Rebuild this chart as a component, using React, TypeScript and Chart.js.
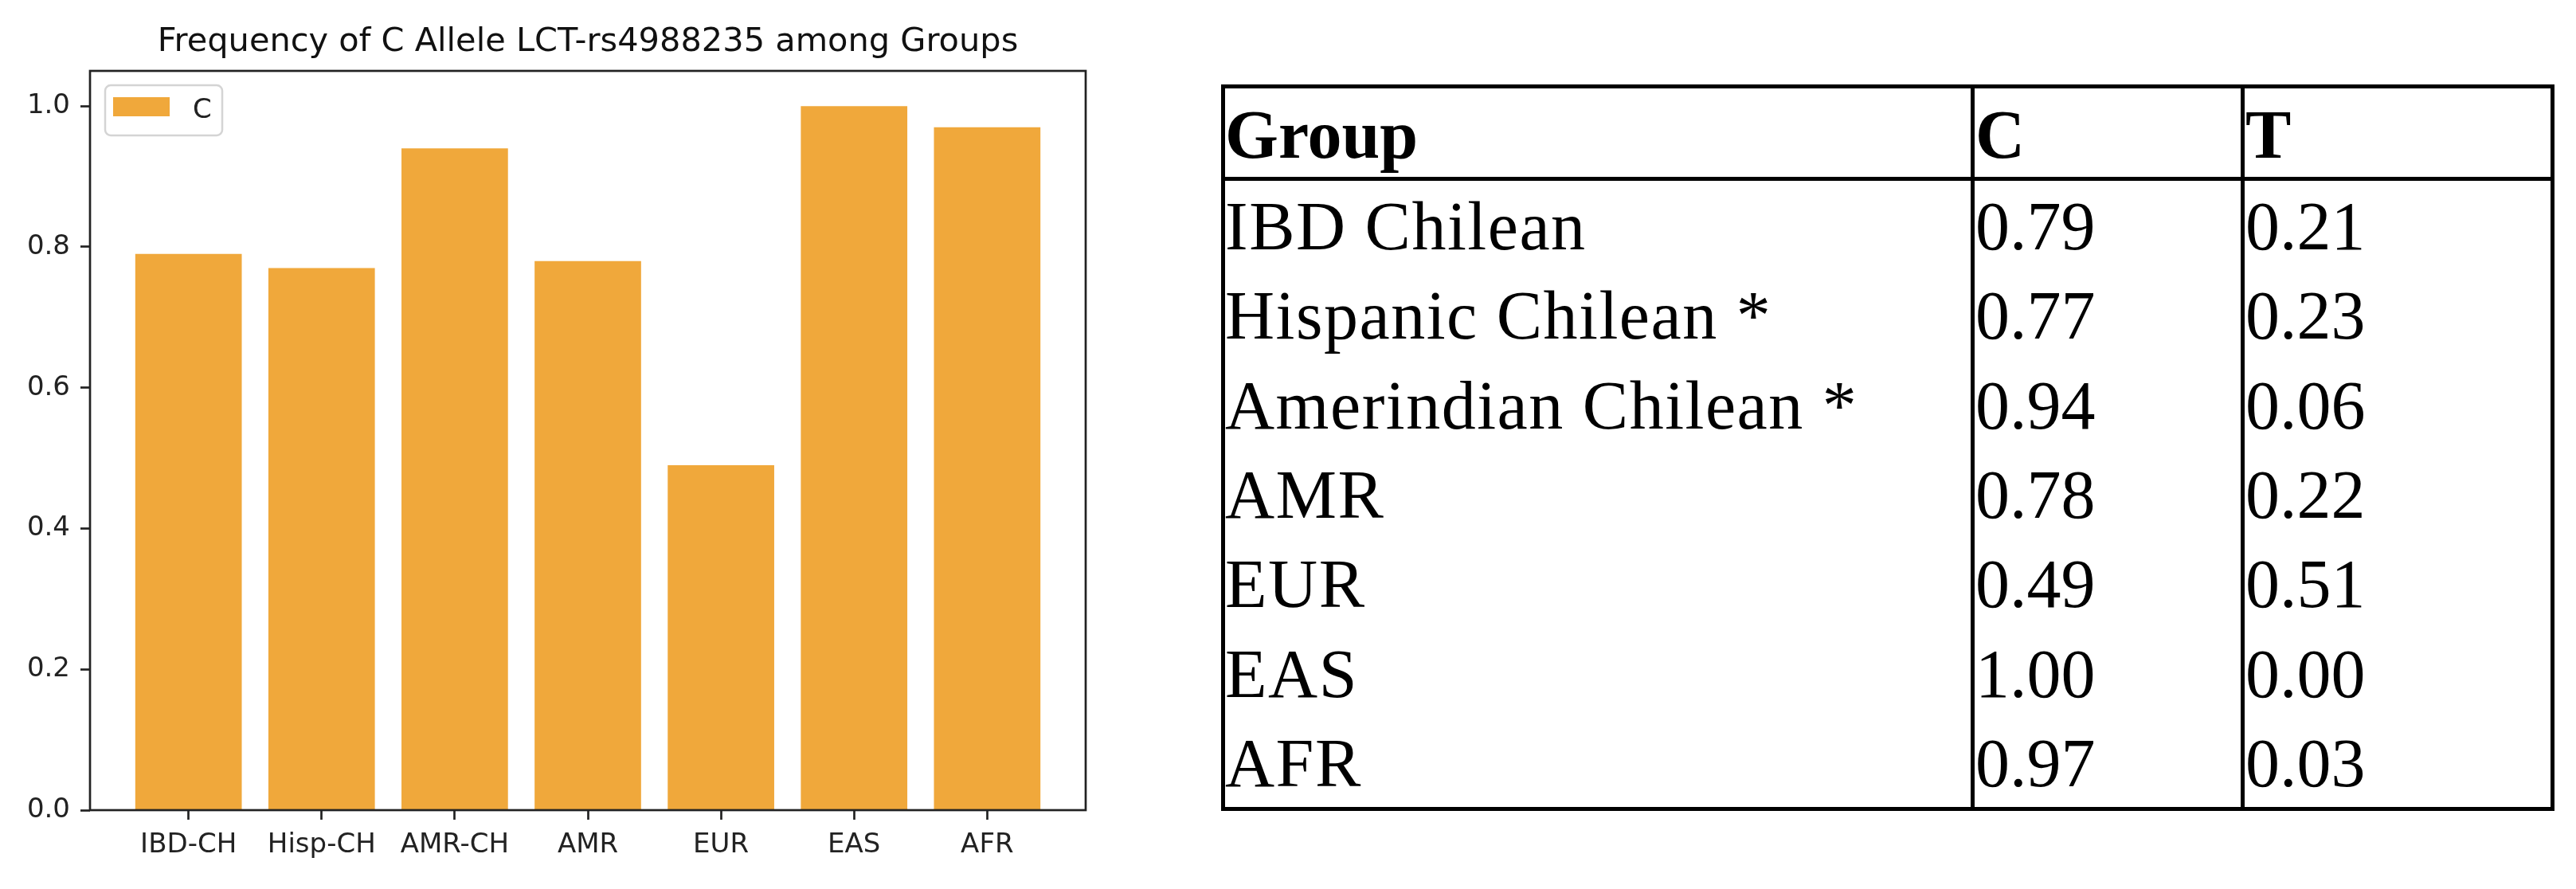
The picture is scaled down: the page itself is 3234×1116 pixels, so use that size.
import React, { useEffect, useRef } from 'react';
import { Chart, registerables } from 'chart.js';

Chart.register(...registerables);

// ---------- data ----------
const chartTitle = 'Frequency of C Allele LCT-rs4988235 among Groups';
const seriesLabel = 'C';
const groupCodes = ['IBD-CH', 'Hisp-CH', 'AMR-CH', 'AMR', 'EUR', 'EAS', 'AFR'];
const cFreq = [0.79, 0.77, 0.94, 0.78, 0.49, 1.0, 0.97];
const yTicks = [0, 0.2, 0.4, 0.6, 0.8, 1.0];

const tableHeader = ['Group', 'C', 'T'];
const tableGroups = [
  'IBD Chilean',
  'Hispanic Chilean *',
  'Amerindian Chilean *',
  'AMR',
  'EUR',
  'EAS',
  'AFR',
];
const tFreq = [0.21, 0.23, 0.06, 0.22, 0.51, 0.0, 0.03];

// ---------- styles / layout ----------
const BAR_COLOR = '#F0A83B';
const AXIS_COLOR = '#222222';
const SANS = '"DejaVu Sans", sans-serif';
const SERIF = '"Liberation Serif", serif';

const CANVAS_W = 1476;
const CANVAS_H = 1116;

// table geometry
const T_LEFT = 1533;
const T_RIGHT = 3207;
const T_TOP = 106;
const T_BOTTOM = 1018;
const LINE_W = 5;
const HEADER_LINE_TOP = 222;
const COL_LINES = [2474, 2813];
const COL_TEXT_X = [1538, 2480, 2819];
const HEADER_BASELINE = 198;
const FIRST_BASELINE = 313;
const ROW_STEP = 112.33;
const T_FONT = 86;
const BASELINE_OFFSET = 72; // baseline below div top for line-height = font size

function BarChart() {
  const ref = useRef<HTMLCanvasElement | null>(null);

  useEffect(() => {
    const canvas = ref.current;
    if (!canvas) return;

    const spines = {
      id: 'spines',
      afterDatasetsDraw(chart: any) {
        const { ctx, chartArea: a } = chart;
        ctx.save();
        ctx.lineWidth = 2.7;
        ctx.strokeStyle = AXIS_COLOR;
        ctx.strokeRect(a.left, a.top, a.right - a.left, a.bottom - a.top);
        ctx.restore();
      },
    };

    const legendBox = {
      id: 'legendBox',
      afterDatasetsDraw(chart: any) {
        const ds = chart.data.datasets[0];
        const a = chart.chartArea;
        const ctx = chart.ctx;
        const x = a.left + 19;
        const y = a.top + 18;
        const w = 147;
        const h = 63;
        ctx.save();
        ctx.beginPath();
        if ((ctx as any).roundRect) (ctx as any).roundRect(x, y, w, h, 7);
        else ctx.rect(x, y, w, h);
        ctx.fillStyle = 'rgba(255,255,255,0.8)';
        ctx.fill();
        ctx.lineWidth = 2.5;
        ctx.strokeStyle = '#d4d4d4';
        ctx.stroke();
        ctx.fillStyle = ds.backgroundColor;
        ctx.fillRect(x + 10, y + 15, 71, 24);
        ctx.fillStyle = AXIS_COLOR;
        ctx.font = `34px ${SANS}`;
        ctx.textBaseline = 'alphabetic';
        ctx.textAlign = 'left';
        ctx.fillText(ds.label, x + 110, y + 41);
        ctx.restore();
      },
    };

    const tickFont = { family: SANS, size: 34 };
    const gridCfg = {
      display: true,
      offset: false,
      drawOnChartArea: false,
      drawTicks: true,
      tickLength: 12,
      tickWidth: 2.7,
      tickColor: AXIS_COLOR,
    };

    const chart = new Chart(canvas, {
      type: 'bar',
      data: {
        datasets: [
          {
            label: seriesLabel,
            data: cFreq.map((v, i) => ({ x: i, y: v })),
            backgroundColor: BAR_COLOR,
            borderWidth: 0,
            barPercentage: 0.8,
            categoryPercentage: 1,
          },
        ],
      },
      options: {
        responsive: false,
        maintainAspectRatio: false,
        animation: false,
        layout: { padding: 0 },
        plugins: {
          legend: { display: false },
          tooltip: { enabled: false },
          title: {
            display: true,
            text: chartTitle,
            color: '#111',
            font: { family: SANS, size: 41.5, weight: 'normal', lineHeight: 1.2 },
            padding: { top: 28.75, bottom: 10.45 },
          },
        },
        scales: {
          x: {
            type: 'linear',
            offset: false,
            min: -0.74,
            max: 6.74,
            afterBuildTicks: (s: any) => {
              s.ticks = groupCodes.map((_, i) => ({ value: i }));
            },
            afterFit: (s: any) => {
              s.height = 99;
            },
            grid: gridCfg,
            border: { display: false },
            ticks: {
              autoSkip: false,
              maxRotation: 0,
              minRotation: 0,
              padding: 12,
              color: AXIS_COLOR,
              font: tickFont,
              callback: (v: any) => groupCodes[Math.round(Number(v))] ?? '',
            },
          },
          y: {
            type: 'linear',
            position: 'left',
            min: 0,
            max: 1.05,
            afterBuildTicks: (s: any) => {
              s.ticks = yTicks.map((v) => ({ value: v }));
            },
            afterFit: (s: any) => {
              s.width = 113;
            },
            grid: gridCfg,
            border: { display: false },
            ticks: {
              padding: 13,
              color: AXIS_COLOR,
              font: tickFont,
              callback: (v: any) => Number(v).toFixed(1),
            },
          },
          yRight: {
            type: 'linear',
            position: 'right',
            display: true,
            afterFit: (s: any) => {
              s.width = 113;
            },
            grid: { display: false },
            border: { display: false },
            ticks: { display: false },
          },
        },
      } as any,
      plugins: [spines, legendBox],
    });

    return () => chart.destroy();
  }, []);

  return (
    <canvas
      ref={ref}
      width={CANVAS_W}
      height={CANVAS_H}
      style={{ position: 'absolute', left: 0, top: 0, width: CANVAS_W, height: CANVAS_H }}
    />
  );
}

function FreqTable() {
  const lines: React.ReactNode[] = [];
  lines.push(
    <div
      key="box"
      style={{
        position: 'absolute',
        left: T_LEFT,
        top: T_TOP,
        width: T_RIGHT - T_LEFT,
        height: T_BOTTOM - T_TOP,
        border: `${LINE_W}px solid #000`,
        boxSizing: 'border-box',
      }}
    />
  );
  lines.push(
    <div
      key="hline"
      style={{
        position: 'absolute',
        left: T_LEFT,
        top: HEADER_LINE_TOP,
        width: T_RIGHT - T_LEFT,
        height: LINE_W,
        background: '#000',
      }}
    />
  );
  COL_LINES.forEach((x, i) =>
    lines.push(
      <div
        key={'v' + i}
        style={{
          position: 'absolute',
          left: x,
          top: T_TOP,
          width: LINE_W,
          height: T_BOTTOM - T_TOP,
          background: '#000',
        }}
      />
    )
  );

  const cell = (
    text: string,
    col: number,
    baseline: number,
    bold: boolean,
    key: string,
    spacing = 0
  ) => (
    <div
      key={key}
      style={{
        position: 'absolute',
        left: COL_TEXT_X[col],
        top: baseline - BASELINE_OFFSET,
        fontFamily: SERIF,
        fontSize: T_FONT,
        lineHeight: `${T_FONT}px`,
        fontWeight: bold ? 700 : 400,
        letterSpacing: spacing,
        whiteSpace: 'nowrap',
        color: '#000',
      }}
    >
      {text}
    </div>
  );

  const texts: React.ReactNode[] = [];
  tableHeader.forEach((h, c) => texts.push(cell(h, c, HEADER_BASELINE, true, 'h' + c)));
  tableGroups.forEach((g, r) => {
    const b = FIRST_BASELINE + r * ROW_STEP;
    texts.push(cell(g, 0, b, false, 'g' + r, 1.5));
    texts.push(cell(cFreq[r].toFixed(2), 1, b, false, 'c' + r));
    texts.push(cell(tFreq[r].toFixed(2), 2, b, false, 't' + r));
  });

  return (
    <>
      {lines}
      {texts}
    </>
  );
}

export default function App() {
  return (
    <div
      style={{
        position: 'fixed',
        left: 0,
        top: 0,
        width: 3234,
        height: 1116,
        background: '#fff',
        overflow: 'hidden',
      }}
    >
      <BarChart />
      <FreqTable />
    </div>
  );
}
